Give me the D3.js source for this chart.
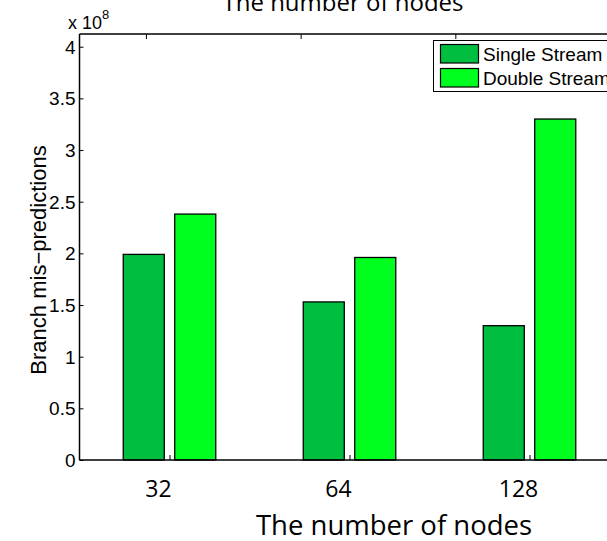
<!DOCTYPE html>
<html>
<head>
<meta charset="utf-8">
<script src="https://cdn.jsdelivr.net/npm/d3@7/dist/d3.min.js"></script>
<style>
  body { margin: 0; background: #fff; }
  svg { display: block; }
  .mat { font-family: "Liberation Sans", Arial, sans-serif; }
  .cal { font-family: "Open Sans", sans-serif; }
</style>
</head>
<body>
<script>
var nodes = ["32", "64", "128"];
var series = ["Single Stream", "Double Stream"];
var singleStream = [1.99, 1.53, 1.30];   // x 10^8
var doubleStream = [2.38, 1.96, 3.30];   // x 10^8
var yTicks = [0, 0.5, 1, 1.5, 2, 2.5, 3, 3.5, 4];
var yTickLabels = ["0", "0.5", "1", "1.5", "2", "2.5", "3", "3.5", "4"];
var colors = ["#00be40", "#00ff1e"];

(function () {

    var width = 607,
        height = 541,
        left = 79.5,
        plotTop = 34,
        bottom = 460,
        plotW = 540;

    var svg = d3.select("body").append("svg")
        .attr("width", width)
        .attr("height", height);

    svg.append("rect")
        .attr("width", width)
        .attr("height", height)
        .attr("fill", "#fff");

    // matlab style: xlim [0.5, 3.5]
    var x = d3.scaleLinear()
        .domain([0.5, nodes.length + 0.5])
        .range([left, left + plotW]);

    var y = d3.scaleLinear()
        .domain([0, 4.123])
        .range([bottom, plotTop]);

    var barW = 0.228,
        offset = 0.143;

    var data = nodes.map(function (n, i) {
        return {node: n, i: i + 1, vals: [singleStream[i], doubleStream[i]]};
    });

    var g = svg.append("g");

    data.forEach(function (d) {
        g.selectAll(null)
            .data(d.vals)
            .enter().append("rect")
            .attr("x", function (v, k) { return x(d.i + (k === 0 ? -offset : offset) - barW / 2); })
            .attr("y", function (v) { return y(v); })
            .attr("width", x(barW) - x(0))
            .attr("height", function (v) { return y(0) - y(v); })
            .attr("fill", function (v, k) { return colors[k]; })
            .attr("stroke", "#000")
            .attr("stroke-width", 1.3);
    });

    // axis box
    svg.append("line")
        .attr("x1", left).attr("x2", width)
        .attr("y1", plotTop).attr("y2", plotTop)
        .attr("stroke", "#000").attr("stroke-width", 1.3);
    svg.append("line")
        .attr("x1", left).attr("x2", width)
        .attr("y1", bottom).attr("y2", bottom)
        .attr("stroke", "#000").attr("stroke-width", 1.5);
    svg.append("line")
        .attr("x1", left).attr("x2", left)
        .attr("y1", plotTop).attr("y2", bottom)
        .attr("stroke", "#000").attr("stroke-width", 1.5);

    // y ticks (inside)
    svg.append("g")
        .attr("transform", "translate(" + left + ",0)")
        .call(d3.axisRight(y).tickValues(yTicks).tickSize(4).tickFormat(""))
        .call(function (a) { a.select(".domain").remove(); })
        .selectAll("line").attr("stroke", "#000");

    svg.append("g").selectAll("text")
        .data(yTicks)
        .enter().append("text")
        .attr("class", "mat")
        .attr("x", left - 4)
        .attr("y", function (d) { return y(d) + 7; })
        .attr("text-anchor", "end")
        .attr("font-size", 19)
        .text(function (d, i) { return yTickLabels[i]; });

    // bottom ticks (inside)
    svg.append("g")
        .attr("transform", "translate(0," + bottom + ")")
        .call(d3.axisTop(x).tickValues(data.map(function (d) { return d.i; })).tickSize(5).tickFormat(""))
        .call(function (a) { a.select(".domain").remove(); })
        .selectAll("line").attr("stroke", "#000");

    // top ticks from the overlaid axes
    var xTop = d3.scalePoint()
        .domain(nodes)
        .range([left + plotW * 0.123, left + plotW * 0.696]);
    svg.append("g")
        .attr("transform", "translate(0," + plotTop + ")")
        .call(d3.axisBottom(xTop).tickSize(5).tickFormat(""))
        .call(function (a) { a.select(".domain").remove(); })
        .selectAll("line").attr("stroke", "#000");

    // category labels
    svg.append("g").selectAll("text")
        .data(data)
        .enter().append("text")
        .attr("class", "cal")
        .attr("x", function (d) { return x(d.i) - 11; })
        .attr("y", 497)
        .attr("text-anchor", "middle")
        .attr("font-size", 23)
        .text(function (d) { return d.node; });

    // exponent
    var ex = svg.append("text")
        .attr("class", "mat")
        .attr("x", 68)
        .attr("y", 29)
        .attr("font-size", 18);
    ex.append("tspan").text("x 10");
    ex.append("tspan").attr("dy", -10).attr("font-size", 13).text("8");

    // y label
    svg.append("text")
        .attr("class", "mat")
        .attr("transform", "translate(46,260) rotate(-90)")
        .attr("text-anchor", "middle")
        .attr("font-size", 22)
        .text("Branch mis\u2212predictions");

    // x titles
    svg.append("text")
        .attr("class", "cal")
        .attr("x", 394)
        .attr("y", 535)
        .attr("text-anchor", "middle")
        .attr("font-size", 27.5)
        .text("The number of nodes");

    svg.append("text")
        .attr("class", "cal")
        .attr("x", 343)
        .attr("y", 11)
        .attr("text-anchor", "middle")
        .attr("font-size", 24)
        .text("The number of nodes");

    // legend
    var lg = svg.append("g").attr("transform", "translate(433.5,40.5)");
    lg.append("rect")
        .attr("width", 200)
        .attr("height", 51)
        .attr("fill", "#fff")
        .attr("stroke", "#000")
        .attr("stroke-width", 1);
    series.forEach(function (s, i) {
        lg.append("rect")
            .attr("x", 7)
            .attr("y", 4 + i * 24)
            .attr("width", 38)
            .attr("height", 18.5)
            .attr("fill", colors[i])
            .attr("stroke", "#000")
            .attr("stroke-width", 1.2);
        lg.append("text")
            .attr("class", "mat")
            .attr("x", 49.5)
            .attr("y", 20 + i * 24)
            .attr("font-size", 19)
            .text(s);
    });
})();
</script>
</body>
</html>
